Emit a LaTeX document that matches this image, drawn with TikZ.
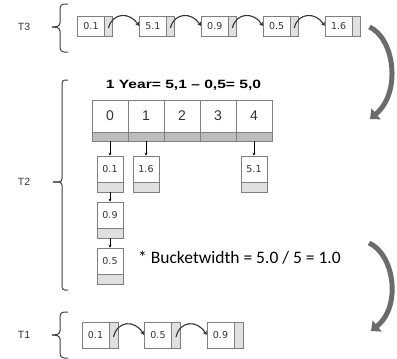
\documentclass[tikz,border=0pt]{standalone}
\usepackage{fontspec}
\setmainfont{Liberation Sans}
\newfontfamily\valfont{DejaVu Sans}
\newfontfamily\califont{Carlito}
\usetikzlibrary{arrows.meta,calc}
\definecolor{boxline}{HTML}{7F7F7F}
\definecolor{boxgray}{HTML}{E0E0E0}
\definecolor{bargray}{HTML}{BDBDBD}
\definecolor{bigarrow}{HTML}{6B6B6B}
\definecolor{txt}{HTML}{333333}
\definecolor{brace}{HTML}{404040}
\begin{document}
\begin{tikzpicture}[x=1pt,y=-1pt,
  valbox/.style={draw=boxline, fill=white, inner sep=0pt, line width=0.7pt,
    font=\valfont\fontsize{9.5}{11}\selectfont, text=txt},
  grayside/.style={draw=boxline, fill=boxgray, inner sep=0pt, line width=0.7pt},
  tbox/.style={valbox, minimum width=27pt, minimum height=20pt},
  tgray/.style={grayside, minimum width=8pt, minimum height=20pt},
  ubox/.style={valbox, minimum width=27pt, minimum height=26pt},
  ugray/.style={grayside, minimum width=9pt, minimum height=26pt},
  kbox/.style={valbox, minimum width=26pt, minimum height=26pt},
  kgray/.style={grayside, minimum width=26pt, minimum height=10pt},
  cell/.style={draw=boxline, fill=white, inner sep=0pt, line width=0.7pt,
    minimum width=36pt, minimum height=32pt, font=\fontsize{14}{16}\selectfont, text=txt},
  cellbar/.style={draw=boxline, fill=bargray, inner sep=0pt, line width=0.7pt,
    minimum width=36pt, minimum height=9pt},
  link/.style={draw=txt, line width=1.1pt, -{Stealth[length=4pt,width=4.5pt]}},
  down/.style={draw=black, line width=0.6pt, -{Stealth[length=3pt,width=3pt]}},
  big/.style={draw=bigarrow, line width=5pt, -{Triangle[length=8pt,width=14pt]}},
  tlabel/.style={font=\fontsize{10.5}{12}\selectfont, text=txt},
  bracepath/.style={draw=brace, line width=1pt}
]
\useasboundingbox (0,0) rectangle (397,359);

% ---------- labels ----------
\node[tlabel] (lt3) at (24,27) {T3};
\node[tlabel] (lt2) at (24,182) {T2};
\node[tlabel] (lt1) at (24,335) {T1};

% ---------- braces ----------
\draw[bracepath] (68,4) -- (64,4) to[out=180,in=90] (60,8) -- (60,23) to[out=-90,in=0] (52,27);
\draw[bracepath] (52,27) to[out=0,in=90] (60,31) -- (60,48) to[out=-90,in=180] (64,52) -- (68,52);
\draw[bracepath] (68,80) -- (65,80) to[out=180,in=90] (62,83) -- (62,179) to[out=-90,in=0] (53,182);
\draw[bracepath] (53,182) to[out=0,in=90] (62,185) -- (62,287) to[out=-90,in=180] (65,290) -- (68,290);
\draw[bracepath] (68,312) -- (64,312) to[out=180,in=90] (60,316) -- (60,331) to[out=-90,in=0] (52,335);
\draw[bracepath] (52,335) to[out=0,in=90] (60,339) -- (60,354) to[out=-90,in=180] (64,358) -- (68,358);

% ---------- T3 list ----------
\foreach \i/\v/\x in {1/0.1/77.5, 2/5.1/139.4, 3/0.9/201.3, 4/0.5/263.2, 5/1.6/325.1}{
  \node[tbox] (a\i) at (\x+13.5,26) {\v};
  \node[tgray] (a\i g) at (\x+31,26) {};
}
\foreach \i/\j in {1/2,2/3,3/4,4/5}{
  \draw[link] ($(a\i g.center)+(0,2)$) .. controls +(4,-16) and +(-9,-14) .. (a\j.west);
}

% ---------- big arrow T3 -> T2 ----------
\coordinate (s1) at ($(a5g.east)+(9,1)$);
\coordinate (e1) at (370,119);
\draw[big] (s1) .. controls (394,38) and (402,92) .. (e1);

% ---------- T2 ----------
\node[font=\bfseries\fontsize{12}{14}\selectfont, xscale=1.3, transform shape] (title) at (183.5,85) {1 Year= 5,1 -- 0,5= 5,0};
\foreach \k in {0,...,4}{
  \node[cell] (c\k) at (110+36*\k,116) {\k};
  \node[cellbar] (g\k) at (110+36*\k,136.5) {};
}
% buckets
\node[kbox] (k01) at (110,169) {0.1};
\node[kgray] (k01g) at (110,187) {};
\node[kbox] (k16) at (146,169) {1.6};
\node[kgray] (k16g) at (146,187) {};
\node[kbox] (k51) at (254,169) {5.1};
\node[kgray] (k51g) at (254,187) {};
\node[kbox] (k09) at (110,215) {0.9};
\node[kgray] (k09g) at (110,233) {};
\node[kbox] (k05) at (110,261) {0.5};
\node[kgray] (k05g) at (110,279) {};
\draw[down] (g0.south) -- (k01.north);
\draw[down] (g1.south) -- (k16.north);
\draw[down] (g4.south) -- (k51.north);
\draw[down] (k01g.south) -- (k09.north);
\draw[down] (k09g.south) -- (k05.north);

\node[anchor=west, font=\califont\fontsize{17.5}{19}\selectfont, text=black, inner sep=0pt] (bw) at (138,258) {* Bucketwidth = 5.0 / 5 = 1.0};

% ---------- big arrow T2 -> T1 ----------
\coordinate (s2) at (369,243);
\coordinate (e2) at (371,331);
\draw[big] (s2) .. controls (394,254) and (402,306) .. (e2);

% ---------- T1 list ----------
\foreach \i/\v/\x in {1/0.1/82, 2/0.5/144.5, 3/0.9/207}{
  \node[ubox] (b\i) at (\x+13.5,335) {\v};
  \node[ugray] (b\i g) at (\x+31.5,335) {};
}
\foreach \i/\j in {1/2,2/3}{
  \draw[link] ($(b\i g.center)+(0,2)$) .. controls +(4,-17) and +(-9,-15) .. (b\j.west);
}
\end{tikzpicture}
\end{document}
